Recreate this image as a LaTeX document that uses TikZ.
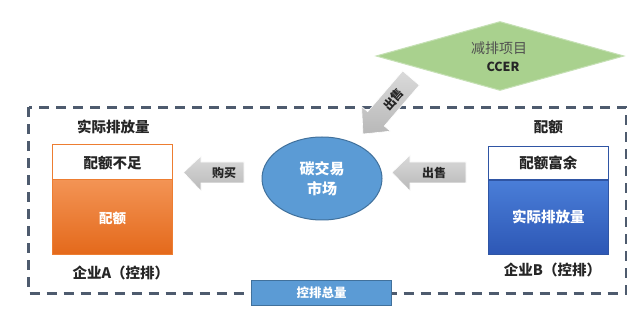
\documentclass[tikz,border=0pt]{standalone}
\usepackage{fontspec}
\setmainfont{Noto Sans CJK SC}
\usetikzlibrary{shapes.geometric}
\definecolor{txtdark}{HTML}{262626}
\definecolor{dashc}{HTML}{4E5B6E}
\definecolor{orangeline}{HTML}{ED7D31}
\definecolor{orangetop}{HTML}{F39455}
\definecolor{orangebot}{HTML}{E4691B}
\definecolor{bluetop}{HTML}{4A7ED8}
\definecolor{bluebot}{HTML}{2D57B5}
\definecolor{blueline}{HTML}{2F55A4}
\definecolor{circfill}{HTML}{5B9BD5}
\definecolor{circline}{HTML}{41719C}
\definecolor{diafill}{HTML}{A9D18E}
\definecolor{dialine}{HTML}{C5E0B4}
\definecolor{arrtop}{HTML}{DADADA}
\definecolor{arrbot}{HTML}{B8B8B8}
\tikzset{
  lbl/.style={font=\fontsize{14.5}{17}\selectfont\bfseries, text=txtdark, inner sep=0pt},
  wlbl/.style={font=\fontsize{14.5}{17}\selectfont\bfseries, text=white, inner sep=0pt},
  arrlbl/.style={font=\fontsize{12}{14}\selectfont\bfseries, text=txtdark, inner sep=0pt},
  blockarrow/.style={top color=arrtop, bottom color=arrbot, draw=white, line width=0.6pt},
  dashbox/.style={draw=dashc, line width=2.2pt, dash pattern=on 10pt off 7pt}
}
\begin{document}
\begin{tikzpicture}[x=1pt,y=-1pt]
\useasboundingbox (0,0) rectangle (640,312);
\fill[white] (0,0) rectangle (640,312);

% dashed frame
\draw[dashbox] (28.5,107.5) rectangle (626,293.5);

% diamond
\node[diamond, draw=dialine, fill=diafill, line width=1pt, minimum width=248pt, minimum height=69pt, inner sep=0pt] (ccer) at (500,56) {};
\node[inner sep=0pt, font=\fontsize{14}{16}\selectfont, text={rgb,255:red,80;green,80;blue,80}] (ccert1) at (499,48) {减排项目};
\node[inner sep=0pt, font=\fontsize{12.5}{14}\selectfont\bfseries, text=txtdark] (ccert2) at (503,66.5) {CCER};

% diagonal arrow (出售 from CCER)
\path[blockarrow] (402.7,70.9) -- (367.7,111.7) -- (361.6,106.5) -- (363,134) -- (390.4,131.2) -- (384.3,126.0) -- (419.3,85.2) -- cycle;
\node[arrlbl, rotate=49] (sellc) at (393.5,99) {出售};

% left enterprise box
\fill[top color=orangetop, bottom color=orangebot] (52.5,179.3) rectangle (172.5,254.5);
\fill[white] (52.5,144.3) rectangle (172.5,179.3);
\draw[orangeline, line width=1.5pt] (52.5,144.3) rectangle (172.5,254.5);
\draw[orangeline, line width=1.2pt] (52.5,179.3) -- (172.5,179.3);
\node[lbl] (aact) at (113.3,126.7) {实际排放量};
\node[lbl] (ashort) at (112.5,163.3) {配额不足};
\node[wlbl, font=\fontsize{13.5}{16}\selectfont\bfseries] (aquota) at (112.5,218) {配额};
\node[lbl] (aname) at (120.8,272.5) {企业A（控排）};

% right enterprise box
\fill[top color=bluetop, bottom color=bluebot] (488.5,180) rectangle (608.3,254.5);
\fill[white] (488.5,146.7) rectangle (608.3,180);
\draw[blueline, line width=1.3pt] (488.5,146.7) rectangle (608.3,254.5);
\draw[blueline, line width=1.2pt] (488.5,180) -- (608.3,180);
\node[lbl] (bquota) at (548.3,127.3) {配额};
\node[lbl] (bsurplus) at (548.3,163.3) {配额富余};
\node[wlbl] (bact) at (548.3,217.3) {实际排放量};
\node[lbl] (bname) at (552.5,270) {企业B（控排）};

% market ellipse
\node[ellipse, draw=circline, fill=circfill, line width=1pt, minimum width=120pt, minimum height=83pt, inner sep=0pt, align=center,
  font=\fontsize{15}{20}\selectfont\bfseries, text=white] (market) at (322,178.5) {碳交易\\市场};

% buy arrow (to A)
\path[blockarrow] (183.5,172.5) -- (201,156) -- (201,162) -- (244,162) -- (244,183) -- (201,183) -- (201,191) -- cycle;
\node[arrlbl] (buy) at (224,172.5) {购买};

% sell arrow (from B)
\path[blockarrow] (392,172.5) -- (410,155) -- (410,162) -- (466,162) -- (466,183) -- (410,183) -- (410,191) -- cycle;
\node[arrlbl] (sellb) at (434,173) {出售};

% total cap box
\node[draw=circline, fill=circfill, line width=1pt, minimum width=140pt, minimum height=25pt, inner sep=0pt,
  font=\fontsize{12.5}{14}\selectfont\bfseries, text=white] (cap) at (321.7,293.2) {控排总量};
\end{tikzpicture}
\end{document}
